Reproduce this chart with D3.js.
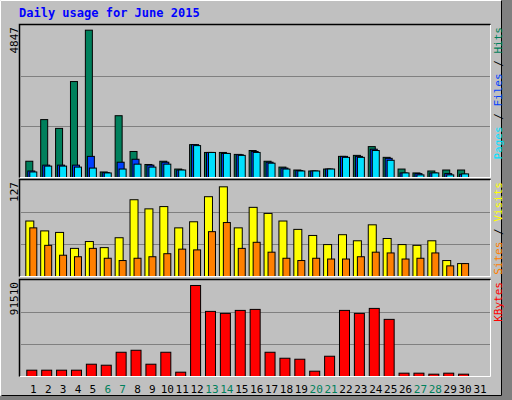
<!DOCTYPE html><html><head><script src="https://cdn.jsdelivr.net/npm/d3@7"></script>
<style>body{margin:0}svg{display:block}text{font-family:"DejaVu Sans Mono",monospace}</style></head><body><script>
const days=d3.range(1,32);
const weekend=[6,7,13,14,20,21,27,28];
const hits=[535,1905,1616,3157,4847,182,2033,856,428,535,278,1081,824,824,760,888,535,342,246,214,278,695,728,1016,663,278,150,214,246,246,0];
const files=[214,407,407,407,695,160,503,600,407,503,246,1081,824,792,749,856,503,310,225,214,278,695,695,931,631,150,128,150,128,107,0];
const pages=[182,375,375,342,310,150,278,439,342,439,246,1049,824,792,728,824,471,278,214,214,278,663,663,888,567,150,86,150,86,118,0];
const visits=[73,60,58,37,46,38,51,101,89,92,64,72,105,118,64,91,83,73,62,54,42,55,47,68,50,42,41,47,21,17,0];
const sites=[64,41,28,26,37,24,21,24,26,30,36,35,59,71,37,45,32,24,21,24,23,23,26,32,31,23,24,31,14,17,0];
const kbytes=[6346,6346,6346,6346,12357,11355,24380,26384,12357,24380,4342,91510,65460,63456,66462,67464,24380,18369,17367,5344,20373,66462,63456,68466,57444,3340,3340,2338,3340,2338,0];
const svg=d3.select("body").append("svg").attr("width",512).attr("height",400);
svg.append("rect").attr("width",512).attr("height",400).attr("fill","#808080");
svg.append("rect").attr("width",502).attr("height",396).attr("fill","#C0C0C0");
svg.append("path").attr("d","M0.5,395.5V0.5H501.5").attr("stroke","#fff").attr("fill","none");
svg.append("path").attr("d","M1.5,395.5H501.5V0.5").attr("stroke","#000").attr("fill","none");
svg.append("text").attr("x",19).attr("y",17).attr("fill","#0000FF").attr("font-weight","bold").attr("font-size",12).text("Daily usage for June 2015");
const x=d3.scaleLinear().domain([1,31]).range([33.3,480]);
function panel(y0,y1,max,label,series,rlabels){
  svg.append("rect").attr("x",20).attr("y",y0).attr("width",470).attr("height",y1-y0).attr("fill","#C0C0C0");
  const y=d3.scaleLinear().domain([0,max]).range([y1,y0+1]);
  [1,2].forEach(k=>svg.append("line").attr("x1",21).attr("x2",490).attr("y1",Math.round(y1-(y1-y0)*k/3)+0.5).attr("y2",Math.round(y1-(y1-y0)*k/3)+0.5).attr("stroke","#808080"));
  series.forEach(s=>{
    svg.append("g").selectAll("rect").data(s.v).join("rect")
      .attr("x",(d,i)=>x(days[i])+s.off+0.5).attr("width",s.w)
      .attr("y",d=>y(d)+0.5).attr("height",d=>y1-y(d))
      .attr("fill",s.c).attr("stroke","#000").style("display",d=>d>0?null:"none");
  });
  svg.append("path").attr("d",`M19.5,${y1+0.5}V${y0-0.5}H490.5`).attr("stroke","#000").attr("fill","none").attr("stroke-width",1.5);
  svg.append("path").attr("d",`M20,${y1+0.5}H490.5V${y0}`).attr("stroke","#fff").attr("fill","none");
  svg.append("text").attr("transform",`translate(18,${y0+2}) rotate(-90)`).attr("text-anchor","end").attr("font-size",11).attr("fill","#000").text(label);
  const t=svg.append("text").attr("transform",`translate(502,${y0+2}) rotate(-90)`).attr("text-anchor","end").attr("font-size",11);
  rlabels.forEach((r,i)=>{ if(i) t.append("tspan").attr("fill","#000").text(" / "); t.append("tspan").attr("fill",r[1]).text(r[0]); });
}
panel(25,177,4968,"4847",[{v:hits,c:"#00805C",off:-8,w:7},{v:files,c:"#0040FF",off:-6,w:7},{v:pages,c:"#00E0FF",off:-4,w:7}],[["Hits","#00805C"],["Files","#0040FF"],["Pages","#00E0FF"]].reverse());
panel(180,276,125,"127",[{v:visits,c:"#FFFF00",off:-8,w:8},{v:sites,c:"#FF8000",off:-4,w:7}],[["Sites","#FF8000"],["Visits","#FFFF00"]]);
panel(280,376,95518,"91510",[{v:kbytes,c:"#FF0000",off:-7,w:10}],[["KBytes","#FF0000"]]);
svg.append("g").selectAll("text").data(days).join("text").attr("x",d=>x(d)).attr("y",393).attr("text-anchor","middle").attr("font-size",11)
  .attr("fill",d=>weekend.includes(d)?"#00805C":"#000").text(d=>d);
</script></body></html>
